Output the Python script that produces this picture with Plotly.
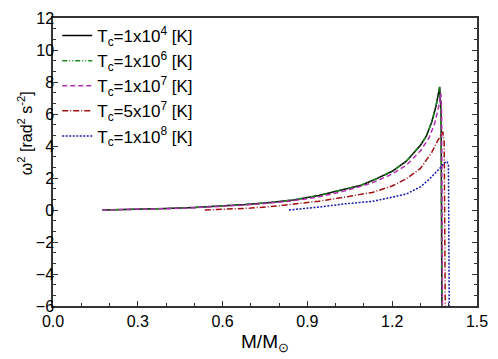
import plotly.graph_objects as go

# Series data (M/Msun, omega^2)
m_1e4 = [0.175, 0.30, 0.40, 0.50, 0.60, 0.68, 0.76, 0.85, 0.94, 1.03, 1.09, 1.13, 1.20, 1.25, 1.30, 1.32, 1.34, 1.355, 1.368, 1.373, 1.376]
w_1e4 = [0.0, 0.04, 0.09, 0.16, 0.24, 0.34, 0.46, 0.63, 0.90, 1.28, 1.55, 1.84, 2.42, 3.05, 4.05, 4.6, 5.5, 6.5, 7.7, 6.0, -7.0]

m_1e6 = [0.175, 0.30, 0.40, 0.50, 0.60, 0.68, 0.76, 0.85, 0.94, 1.03, 1.09, 1.13, 1.20, 1.25, 1.30, 1.32, 1.34, 1.355, 1.368, 1.373, 1.376]
w_1e6 = [0.0, 0.04, 0.09, 0.16, 0.24, 0.34, 0.46, 0.63, 0.90, 1.28, 1.55, 1.84, 2.42, 3.05, 4.05, 4.6, 5.5, 6.5, 7.7, 6.0, -7.0]

m_1e7 = [0.175, 0.30, 0.40, 0.50, 0.60, 0.68, 0.76, 0.85, 0.94, 1.03, 1.13, 1.20, 1.25, 1.30, 1.33, 1.35, 1.365, 1.372, 1.375, 1.378]
w_1e7 = [0.0, 0.03, 0.08, 0.14, 0.22, 0.31, 0.42, 0.58, 0.82, 1.18, 1.70, 2.25, 2.8, 3.7, 4.5, 5.4, 6.5, 7.3, 6.0, -7.0]

m_5e7 = [0.537, 0.60, 0.70, 0.80, 0.855, 0.94, 1.03, 1.13, 1.20, 1.25, 1.30, 1.34, 1.36, 1.379, 1.384, 1.388]
w_5e7 = [0.0, 0.03, 0.12, 0.26, 0.36, 0.55, 0.80, 1.10, 1.50, 1.95, 2.6, 3.6, 4.3, 4.9, 4.2, -7.0]

m_1e8 = [0.835, 0.90, 0.95, 1.03, 1.13, 1.20, 1.25, 1.30, 1.33, 1.368, 1.385, 1.394, 1.399, 1.402]
w_1e8 = [0.0, 0.10, 0.20, 0.38, 0.54, 0.80, 1.0, 1.45, 1.9, 2.6, 2.95, 3.04, 2.8, -7.0]

labels = ["T<sub>c</sub>=1x10<sup>4</sup> [K]",
          "T<sub>c</sub>=1x10<sup>6</sup> [K]",
          "T<sub>c</sub>=1x10<sup>7</sup> [K]",
          "T<sub>c</sub>=5x10<sup>7</sup> [K]",
          "T<sub>c</sub>=1x10<sup>8</sup> [K]"]

xs = [m_1e4, m_1e6, m_1e7, m_5e7, m_1e8]
ys = [w_1e4, w_1e6, w_1e7, w_5e7, w_1e8]
colors = ["#000000", "#1a8a1a", "#b030b0", "#a01010", "#1a1ab0"]
dashes = ["solid", "5px,2px,1px,2px,1px,2px", "5px,3px", "6px,2px,1px,2px", "2px,1.5px"]

fig = go.Figure()
for x, y, name, c, d in zip(xs, ys, labels, colors, dashes):
    fig.add_trace(go.Scatter(x=x, y=y, mode="lines", name=name,
                             line=dict(color=c, dash=d, width=1.5)))

font = dict(family="Arial, Liberation Sans, sans-serif", size=16, color="#000000")

fig.update_layout(
    width=498, height=359,
    margin=dict(l=53, r=11, t=10, b=49),
    paper_bgcolor="white", plot_bgcolor="white",
    font=font,
    showlegend=True,
    legend=dict(x=0.01, y=1.0, xanchor="left", yanchor="top",
                bgcolor="rgba(0,0,0,0)", font=dict(size=17),
                itemwidth=30, tracegroupgap=0),
    xaxis=dict(range=[0, 1.5], tick0=0, dtick=0.3, tickformat=".1f",
               showgrid=False, zeroline=False,
               showline=True, linecolor="#333333", linewidth=1.5, mirror=True,
               ticks="inside", ticklen=5, tickcolor="#333333",
               minor=dict(dtick=0.1, ticks="inside", ticklen=3, tickcolor="#333333"),
               title=dict(text="M/M<sub>⊙</sub>", standoff=6)),
    yaxis=dict(range=[-6, 12], tick0=0, dtick=2,
               showgrid=False, zeroline=False,
               showline=True, linecolor="#333333", linewidth=1.5, mirror="ticks",
               ticks="inside", ticklen=5, tickcolor="#333333", ticklabelstandoff=-6,
               minor=dict(dtick=2/3, tick0=0, ticks="inside", ticklen=3, tickcolor="#333333")),
    annotations=[dict(text="ω<sup>2</sup> [rad<sup>2</sup> s<sup>-2</sup>]",
                      xref="paper", yref="paper", x=-0.066, y=0.6,
                      xanchor="center", yanchor="middle", textangle=-90,
                      showarrow=False, font=dict(size=16))],
)

fig.write_html("out.html", config={"displayModeBar": False},
               post_script="document.body.style.margin='0px';")
